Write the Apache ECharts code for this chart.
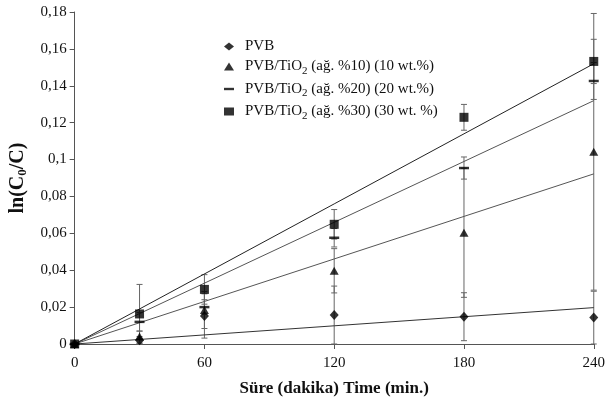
<!DOCTYPE html>
<html><head><meta charset="utf-8">
<script src="https://cdn.jsdelivr.net/npm/echarts@6/dist/echarts.min.js"></script>
<style>html,body{margin:0;padding:0;background:#fff}#c{width:608px;height:405px}</style>
</head><body><div id="c"></div>
<script>
const times = [0, 30, 60, 120, 180, 240];
const seriesNames = ['PVB', 'PVB/TiO{s|2} (ağ. %10) (10 wt.%)', 'PVB/TiO{s|2} (ağ. %20) (20 wt.%)', 'PVB/TiO{s|2} (ağ. %30) (30 wt. %)'];
const pvb   = [0, 0.002, 0.0152, 0.0157, 0.0148, 0.0143];
const tio10 = [0, 0.004, 0.0184, 0.0397, 0.0603, 0.1042];
const tio20 = [0, 0.012, 0.0200, 0.0576, 0.0954, 0.1426];
const tio30 = [0, 0.0163, 0.0296, 0.0649, 0.1229, 0.1532];
const errPvb   = [0, 0.002, 0.012, 0.0157, 0.013, 0.0143];
const errTio10 = [0, 0.003, 0.010, 0.012, 0.035, 0.075];
const errTio20 = [0, 0.005, 0.004, 0.005, 0.006, 0.010];
const errTio30 = [0, 0.016, 0.008, 0.008, 0.007, 0.012];
const yTicks = [0, 0.02, 0.04, 0.06, 0.08, 0.1, 0.12, 0.14, 0.16, 0.18];
const xTicks = [0, 60, 120, 180, 240];

const allVals = [pvb, tio10, tio20, tio30];
const allErr = [errPvb, errTio10, errTio20, errTio30];
const symbols = ['diamond', 'triangle', 'path://M0,0h10v2.4h-10z', 'rect'];
const symSizes = [[9, 10], [9, 8], [10, 2.5], [9, 9]];
const legendIcons = ['diamond', 'triangle', 'path://M0,0h10v2.4h-10z', 'rect'];
const lineColors = ['#333', '#555', '#555', '#222'];

function slopeThroughOrigin(xs, ys) {
  let sxy = 0, sxx = 0;
  for (let i = 0; i < xs.length; i++) { sxy += xs[i] * ys[i]; sxx += xs[i] * xs[i]; }
  return sxy / sxx;
}
const fmt = v => String(+v.toFixed(2)).replace('.', ',');
const serif = 'Liberation Serif';

const series = [];
allVals.forEach((vals, k) => {
  const errs = allErr[k];
  series.push({
    type: 'custom', silent: true, z: 2,
    renderItem: (params, api) => {
      const x = api.value(0), lo = api.value(1), hi = api.value(2);
      const p1 = api.coord([x, lo]), p2 = api.coord([x, hi]);
      const w = 3;
      const st = { stroke: '#666', lineWidth: 1 };
      return { type: 'group', children: [
        { type: 'line', shape: { x1: p1[0], y1: p1[1], x2: p2[0], y2: p2[1] }, style: st },
        { type: 'line', shape: { x1: p1[0] - w, y1: p1[1], x2: p1[0] + w, y2: p1[1] }, style: st },
        { type: 'line', shape: { x1: p2[0] - w, y1: p2[1], x2: p2[0] + w, y2: p2[1] }, style: st }
      ]};
    },
    data: times.map((t, i) => [t, Math.max(0, vals[i] - errs[i]), vals[i] + errs[i]])
  });
});
allVals.forEach((vals, k) => {
  const m = slopeThroughOrigin(times, vals);
  series.push({
    type: 'line', silent: true, z: 3, symbol: 'none',
    lineStyle: { color: lineColors[k], width: 1 },
    data: [[times[0], m * times[0]], [times[times.length - 1], m * times[times.length - 1]]]
  });
});
allVals.forEach((vals, k) => {
  series.push({
    name: seriesNames[k], type: 'scatter', z: 5,
    symbol: symbols[k], symbolSize: symSizes[k],
    itemStyle: { color: '#000' },
    data: times.map((t, i) => [t, vals[i]])
  });
});

const chart = echarts.init(document.getElementById('c'));
chart.setOption({
  animation: false,
  backgroundColor: '#fff',
  textStyle: { fontFamily: serif },
  grid: { left: 74, right: 12, top: 12, bottom: 61 },
  legend: {
    data: seriesNames.map((n, k) => ({ name: n, icon: legendIcons[k] })),
    orient: 'vertical', left: 219, top: 34,
    itemWidth: 10, itemHeight: 8, itemGap: 5,
    textStyle: { fontFamily: serif, fontSize: 15, color: '#111', padding: [0, 0, 0, 6],
      rich: { s: { fontFamily: serif, fontSize: 11, color: '#111', padding: [9, 0, 0, 0] } } }
  },
  xAxis: {
    type: 'value', min: 0, max: 240, interval: 60,
    name: 'Süre (dakika) Time (min.)', nameLocation: 'middle', nameGap: 36,
    nameTextStyle: { fontFamily: serif, fontWeight: 'bold', fontSize: 17, color: '#111' },
    axisLine: { lineStyle: { color: '#555' } },
    axisTick: { show: true, length: 5, lineStyle: { color: '#555' } },
    axisLabel: { fontFamily: serif, fontSize: 15, color: '#111', margin: 12,
      formatter: v => xTicks.includes(v) ? String(v) : '' },
    splitLine: { show: false }
  },
  yAxis: {
    type: 'value', min: 0, max: 0.18, interval: 0.02,
    name: '{b|ln(C}{s|0}{b|/C)}', nameLocation: 'middle', nameGap: 44,
    nameTextStyle: { rich: {
      b: { fontFamily: serif, fontWeight: 'bold', fontSize: 20, color: '#111' },
      s: { fontFamily: serif, fontWeight: 'bold', fontSize: 13, color: '#111', padding: [10, 0, 0, 0] }
    } },
    axisLine: { show: true, lineStyle: { color: '#555' } },
    axisTick: { show: true, length: 5, lineStyle: { color: '#555' } },
    axisLabel: { fontFamily: serif, fontSize: 15, color: '#111', margin: 8,
      formatter: v => yTicks.some(t => Math.abs(t - v) < 1e-9) ? fmt(v) : '' },
    splitLine: { show: false }
  },
  series
});
</script></body></html>
